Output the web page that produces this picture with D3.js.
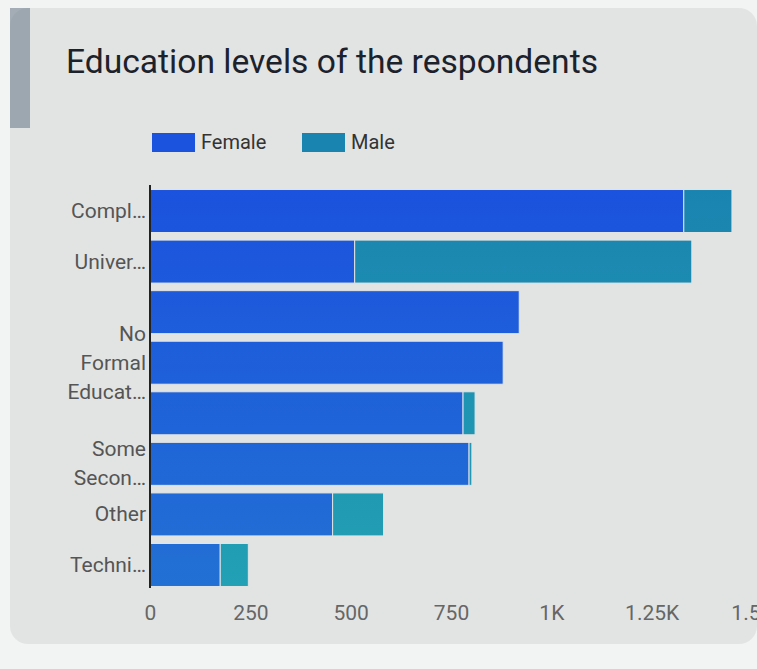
<!DOCTYPE html>
<html><head><meta charset="utf-8">
<script src="https://cdn.jsdelivr.net/npm/d3@7"></script>
<style>
html,body{margin:0;padding:0;background:#e6e8e8;}
svg{display:block;}
</style></head>
<body>
<svg id="chart" width="757" height="669"></svg>
<script>
const categories = ["Completed Secondary","University","Completed Primary","No Formal Education","Some Primary","Some Secondary","Other","Technical"];
const tickLabels = [["Compl…"],["Univer…"],[],["No","Formal","Educat…"],[],["Some","Secon…"],["Other"],["Techni…"]];
const femaleValues = [1330, 510, 920, 880, 780, 795, 455, 175];
const maleValues   = [120, 840, 0, 0, 30, 7, 127, 70];
const seriesNames = ["Female","Male"];
const seriesColors = ["#1b52de","#1a84b0"];
const seriesColorsBottom = ["#2270d4","#22a0b4"];
const xTicks = [0,250,500,750,1000,1250,1500];
const xTickLabels = ["0","250","500","750","1K","1.25K","1.5K"];

const svg = d3.select("#chart");
const W = 757, H = 669;
const font = "Roboto, 'Noto Sans', sans-serif";

const defs = svg.append("defs");
seriesNames.forEach((n,i)=>{
  const g = defs.append("linearGradient").attr("id","grad"+i)
    .attr("gradientUnits","userSpaceOnUse").attr("x1",0).attr("y1",190).attr("x2",0).attr("y2",585);
  g.append("stop").attr("offset","0%").attr("stop-color",seriesColors[i]);
  g.append("stop").attr("offset","100%").attr("stop-color",seriesColorsBottom[i]);
});

// background: photo-like panel
svg.append("rect").attr("x",0).attr("y",0).attr("width",W).attr("height",H).attr("fill","#f2f3f3");
svg.append("rect").attr("x",10).attr("y",8).attr("width",747).attr("height",636).attr("rx",18).attr("fill","#e2e4e3");
svg.append("rect").attr("x",10).attr("y",8).attr("width",20).attr("height",120).attr("fill","#6f7f8c").attr("opacity",0.6);

svg.append("text").attr("x",66).attr("y",73)
  .attr("font-family",font).attr("font-size",34)
  .attr("textLength",532).attr("lengthAdjust","spacingAndGlyphs")
  .attr("fill","#1c222c").text("Education levels of the respondents");

// legend
const legend = svg.append("g").attr("font-family",font).attr("font-size",20);
const legendX = [152, 302];
seriesNames.forEach((n,i)=>{
  legend.append("rect").attr("x",legendX[i]).attr("y",133).attr("width",43).attr("height",19).attr("fill",seriesColors[i]);
  legend.append("text").attr("x",legendX[i]+49).attr("y",149).attr("fill","#333").text(n);
});

const x = d3.scaleLinear().domain([0,1500]).range([150,752]);
const y = d3.scaleBand().domain(categories).range([188,588]).paddingInner(0.15).paddingOuter(0.03);

const data = categories.map((c,i)=>({cat:c, Female:femaleValues[i], Male:maleValues[i]}));
const stack = d3.stack().keys(seriesNames)(data);

svg.append("g").selectAll("g").data(stack).join("g")
  .attr("fill",(d,i)=>"url(#grad"+i+")")
  .selectAll("rect").data(d=>d).join("rect")
  .attr("x",d=>x(d[0]))
  .attr("y",d=>y(d.data.cat))
  .attr("width",d=>Math.max(0,x(d[1])-x(d[0])))
  .attr("height",y.bandwidth())
  .attr("stroke","#e2e4e3").attr("stroke-width",d=>d[1]>d[0]?1:0);

// y axis
const yAxis = d3.axisLeft(y).tickSize(0).tickFormat("");
const yg = svg.append("g").attr("transform","translate(150,0)").call(yAxis);
yg.select(".domain").attr("stroke","#222").attr("stroke-width",2).attr("d","M0,185V588");
yg.selectAll(".tick").each(function(d,i){
  const lines = tickLabels[i];
  const t = d3.select(this).append("text")
    .attr("x",-4).attr("text-anchor","end")
    .attr("font-family",font).attr("font-size",21).attr("fill","#555");
  const lh = 29;
  const off = -(lines.length-1)*lh/2;
  lines.forEach((l,j)=>{
    t.append("tspan").attr("x",-4).attr("y",off + j*lh + 7).text(l);
  });
});

// x axis
const xAxis = d3.axisBottom(x).tickValues(xTicks).tickSize(0).tickFormat((d,i)=>xTickLabels[i]);
const xg = svg.append("g").attr("transform","translate(0,600)").call(xAxis);
xg.select(".domain").remove();
xg.selectAll("text").attr("font-family",font).attr("font-size",21).attr("fill","#666").attr("dy","0.8em");
</script>
</body></html>
